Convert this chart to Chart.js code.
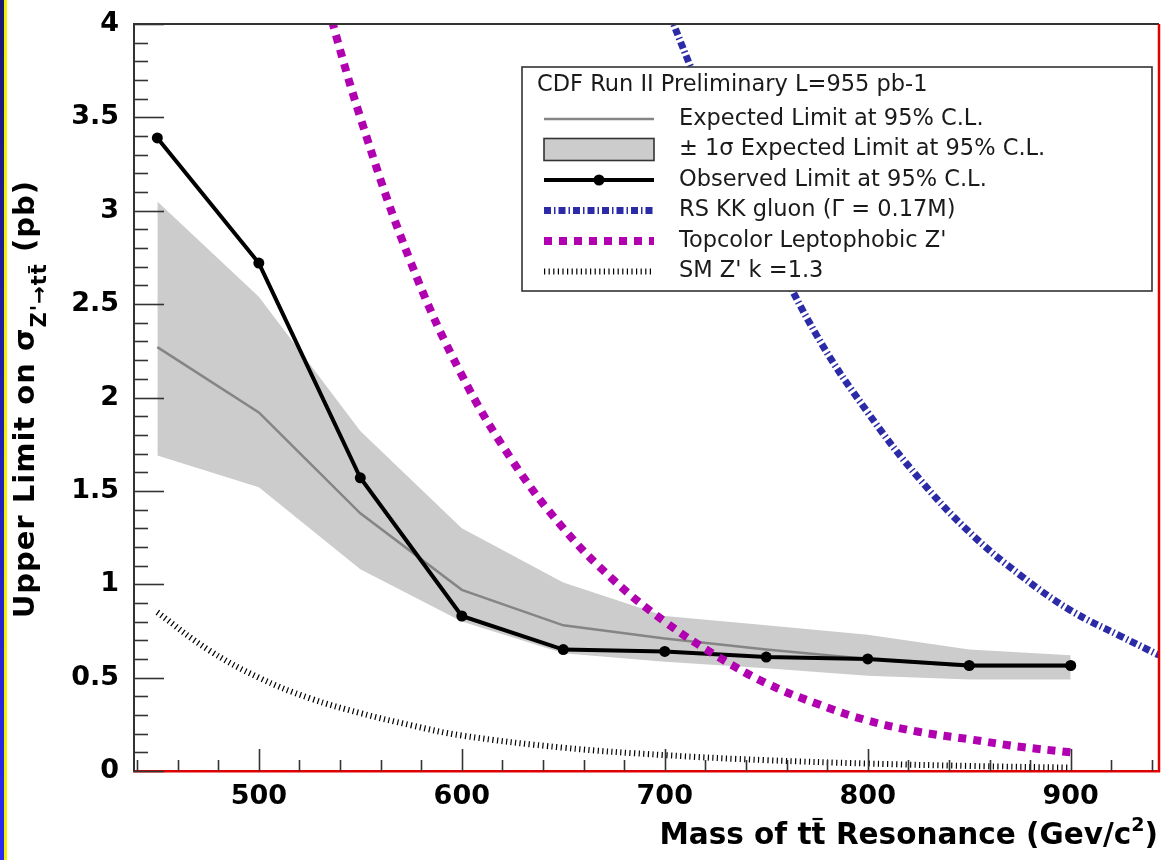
<!DOCTYPE html>
<html>
<head>
<meta charset="utf-8">
<script src="https://cdn.jsdelivr.net/npm/chart.js@4.4.0/dist/chart.umd.min.js"></script>
<style>
  html, body { margin: 0; padding: 0; background: #fff; overflow: hidden; }
</style>
</head>
<body>
<canvas id="myChart" width="1167" height="860"></canvas>
<script>
// Z' -> ttbar limits, masses in GeV/c^2, cross sections in pb
const masses = [450, 500, 550, 600, 650, 700, 750, 800, 850, 900];
const observedLimit = [3.39, 2.72, 1.57, 0.83, 0.65, 0.64, 0.61, 0.60, 0.565, 0.565];
const expectedLimit = [2.27, 1.92, 1.38, 0.97, 0.78, 0.71, 0.65, 0.60, 0.56, 0.56];
const expectedUp = [3.05, 2.54, 1.82, 1.30, 1.01, 0.83, 0.78, 0.73, 0.65, 0.62];
const expectedDown = [1.69, 1.52, 1.08, 0.80, 0.63, 0.585, 0.55, 0.51, 0.49, 0.49];

// theory curves
const kkMass = [700, 712, 725, 750, 775, 800, 825, 850, 875, 900, 925, 943.5];
const kkXsec = [4.12, 3.79, 3.45, 2.86, 2.33, 1.92, 1.57, 1.28, 1.05, 0.86, 0.72, 0.62];
const topcolorMass = [530, 550, 575, 600, 625, 650, 675, 700, 725, 750, 775, 800, 825, 850, 875, 900];
const topcolorXsec = [4.25, 3.50, 2.72, 2.12, 1.66, 1.30, 1.02, 0.80, 0.62, 0.47, 0.36, 0.27, 0.21, 0.17, 0.13, 0.10];
const smMass = [450, 475, 500, 525, 550, 575, 600, 650, 700, 750, 800, 850, 900];
const smXsec = [0.85, 0.65, 0.50, 0.39, 0.31, 0.245, 0.19, 0.125, 0.085, 0.058, 0.04, 0.027, 0.018];

const xTickValues = [500, 600, 700, 800, 900];
const xTickLabels = ["500", "600", "700", "800", "900"];
const yTickValues = [0, 0.5, 1, 1.5, 2, 2.5, 3, 3.5, 4];
const yTickLabels = ["0", "0.5", "1", "1.5", "2", "2.5", "3", "3.5", "4"];

const legendHeader = "CDF Run II Preliminary L=955 pb-1";

const FONT = '"DejaVu Sans", "Liberation Sans", sans-serif';
const pts = (xs, ys) => xs.map((x, i) => ({ x: x, y: ys[i] }));

// white page with the blue / yellow strip on the left
const background = {
  id: "background",
  beforeDraw(chart) {
    const c = chart.ctx;
    c.save();
    c.fillStyle = "#fff";
    c.fillRect(0, 0, chart.width, chart.height);
    const g = c.createLinearGradient(0, 0, 0, chart.height);
    g.addColorStop(0, "#1b1b70");
    g.addColorStop(1, "#2a2af2");
    c.fillStyle = g;
    c.fillRect(0, 0, 4, chart.height);
    c.fillStyle = "#f4f000";
    c.fillRect(4, 0, 3, chart.height);
    c.restore();
  }
};

// ROOT style frame: inward major/minor ticks, top line, red right edge
const frame = {
  id: "frame",
  afterDatasetsDraw(chart) {
    const c = chart.ctx;
    const a = chart.chartArea;
    const x = chart.scales.x, y = chart.scales.y;
    c.save();
    c.strokeStyle = "#333";
    c.lineWidth = 2;
    c.beginPath();
    c.moveTo(a.left, a.top);
    c.lineTo(a.right, a.top);
    c.stroke();
    c.lineWidth = 1.6;
    for (let i = 0; i <= 40; i++) {
      const py = Math.round(y.getPixelForValue(i / 10)) + 0.5;
      const len = i % 5 === 0 ? 30 : 14;
      c.beginPath();
      c.moveTo(a.left, py);
      c.lineTo(a.left + len, py);
      c.stroke();
    }
    for (let v = 440; v <= 940; v += 20) {
      const px = Math.round(x.getPixelForValue(v)) + 0.5;
      const len = v % 100 === 0 ? 22 : 11;
      c.beginPath();
      c.moveTo(px, a.bottom);
      c.lineTo(px, a.bottom - len);
      c.stroke();
    }
    c.strokeStyle = "#e00000";
    c.lineWidth = 2.5;
    c.beginPath();
    c.moveTo(a.right, a.top);
    c.lineTo(a.right, a.bottom + 1);
    c.stroke();
    c.restore();
  }
};

function drawRuns(c, runs, endX, baseY) {
  let total = 0;
  runs.forEach(r => { c.font = r.font; r.w = c.measureText(r.text).width; total += r.w; });
  let cx = endX - total;
  runs.forEach(r => {
    c.font = r.font;
    const by = baseY + (r.dy || 0);
    c.fillText(r.text, cx, by);
    if (r.bar) {
      c.save();
      c.lineWidth = r.barWidth || 2;
      c.strokeStyle = c.fillStyle;
      c.beginPath();
      c.moveTo(cx + 1, by - r.barHeight);
      c.lineTo(cx + r.w - 3, by - r.barHeight);
      c.stroke();
      c.restore();
    }
    cx += r.w;
  });
}

// axis titles with sub/superscripts and the t-bar
const axisTitles = {
  id: "axisTitles",
  afterDraw(chart) {
    const c = chart.ctx;
    c.save();
    c.fillStyle = "#000";
    c.textBaseline = "alphabetic";
    c.textAlign = "left";
    const big = "bold 29.5px " + FONT;
    const sup = "bold 19px " + FONT;
    drawRuns(c, [
      { text: "Mass of t", font: big },
      { text: "t", font: big, bar: true, barHeight: 25, barWidth: 2.2 },
      { text: " Resonance (Gev/c", font: big },
      { text: "2", font: sup, dy: -13 },
      { text: ")", font: big }
    ], 1158, 844);

    const yt = "bold 29px " + FONT;
    const sub = "bold 21px " + FONT;
    c.letterSpacing = "1px";
    c.translate(34, 180);
    c.rotate(-Math.PI / 2);
    drawRuns(c, [
      { text: "Upper Limit on ", font: yt },
      { text: "\u03c3", font: yt },
      { text: "Z'\u2192t", font: sub, dy: 12 },
      { text: "t", font: sub, dy: 12, bar: true, barHeight: 17, barWidth: 1.8 },
      { text: " (pb)", font: yt }
    ], 0, 0);
    c.restore();
  }
};

// legend box drawn inside the plot
const boxLegend = {
  id: "boxLegend",
  afterDraw(chart) {
    const c = chart.ctx;
    const bx = 522, by = 67, bw = 630, bh = 224;
    c.save();
    c.fillStyle = "#fff";
    c.fillRect(bx, by, bw, bh);
    c.strokeStyle = "#333";
    c.lineWidth = 1.6;
    c.strokeRect(bx, by, bw, bh);
    c.fillStyle = "#1a1a1a";
    c.font = "22.5px " + FONT;
    c.textBaseline = "middle";
    c.fillText(legendHeader, 537, 85);
    const rows = [119, 149.5, 180, 210.5, 241, 271.5];
    const order = [2, 0, 3, 6, 5, 4];
    const x1 = 544, x2 = 654;
    order.forEach((di, k) => {
      const ds = chart.data.datasets[di];
      const ry = rows[k];
      if (di === 0) {
        c.fillStyle = ds.backgroundColor;
        c.fillRect(x1, ry - 11, x2 - x1, 22);
        c.strokeStyle = "#333";
        c.lineWidth = 1.6;
        c.setLineDash([]);
        c.strokeRect(x1, ry - 11, x2 - x1, 22);
      } else {
        c.strokeStyle = ds.borderColor;
        c.lineWidth = ds.borderWidth;
        c.lineCap = "butt";
        c.setLineDash(ds.borderDash || []);
        c.beginPath();
        c.moveTo(x1, ry);
        c.lineTo(x2, ry);
        c.stroke();
        c.setLineDash([]);
        if (ds.pointRadius) {
          c.fillStyle = ds.pointBackgroundColor;
          c.beginPath();
          c.arc((x1 + x2) / 2, ry, ds.pointRadius, 0, Math.PI * 2);
          c.fill();
        }
      }
      c.fillStyle = "#1a1a1a";
      c.fillText(ds.label, 679, ry);
    });
    c.restore();
  }
};

const ctx = document.getElementById("myChart").getContext("2d");
const myChart = new Chart(ctx, {
  type: "line",
  data: {
    datasets: [
      {
        label: "\u00b1 1\u03c3 Expected Limit at 95% C.L.",
        data: pts(masses, expectedUp),
        borderWidth: 0,
        borderColor: "rgba(0,0,0,0)",
        backgroundColor: "#cccccc",
        pointRadius: 0,
        fill: "+1",
        tension: 0,
        order: 6
      },
      {
        label: "expected down",
        data: pts(masses, expectedDown),
        borderWidth: 0,
        borderColor: "rgba(0,0,0,0)",
        pointRadius: 0,
        fill: false,
        tension: 0,
        order: 6
      },
      {
        label: "Expected Limit at 95% C.L.",
        data: pts(masses, expectedLimit),
        borderColor: "#858585",
        borderWidth: 2.5,
        pointRadius: 0,
        fill: false,
        tension: 0,
        order: 5
      },
      {
        label: "Observed Limit at 95% C.L.",
        data: pts(masses, observedLimit),
        borderColor: "#000",
        borderWidth: 4,
        pointRadius: 5.5,
        pointBorderWidth: 0,
        pointBackgroundColor: "#000",
        fill: false,
        tension: 0,
        order: 4
      },
      {
        label: "SM Z' k =1.3",
        data: pts(smMass, smXsec),
        borderColor: "#000",
        borderWidth: 6,
        borderDash: [1.2, 3.4],
        borderCapStyle: "butt",
        pointRadius: 0,
        fill: false,
        tension: 0.4,
        order: 3
      },
      {
        label: "Topcolor Leptophobic Z'",
        data: pts(topcolorMass, topcolorXsec),
        borderColor: "#b000b0",
        borderWidth: 8,
        borderDash: [8, 7],
        borderCapStyle: "butt",
        pointRadius: 0,
        fill: false,
        tension: 0.4,
        order: 2
      },
      {
        label: "RS KK gluon (\u0393 = 0.17M)",
        data: pts(kkMass, kkXsec),
        borderColor: "#2b2ba8",
        borderWidth: 7,
        borderDash: [7, 3, 1.5, 3],
        borderCapStyle: "butt",
        pointRadius: 0,
        fill: false,
        tension: 0.4,
        order: 1
      }
    ]
  },
  options: {
    responsive: false,
    animation: false,
    layout: { padding: { left: 0, top: 24, right: 8, bottom: 0 } },
    plugins: {
      legend: { display: false },
      tooltip: { enabled: false }
    },
    scales: {
      x: {
        type: "linear",
        min: 438.5,
        max: 943.5,
        grid: { display: false },
        border: { color: "#e00000", width: 2.5 },
        ticks: {
          color: "#000",
          padding: 2,
          maxRotation: 0,
          font: { family: FONT, weight: "bold", size: 27 },
          callback: (v, i) => xTickLabels[i]
        },
        afterBuildTicks: s => { s.ticks = xTickValues.map(v => ({ value: v })); },
        afterFit: s => { s.height = 89; }
      },
      y: {
        type: "linear",
        min: 0,
        max: 4,
        grid: { display: false },
        border: { color: "#333", width: 2 },
        ticks: {
          color: "#000",
          padding: 7,
          font: { family: FONT, weight: "bold", size: 27 },
          callback: (v, i) => yTickLabels[i]
        },
        afterBuildTicks: s => { s.ticks = yTickValues.map(v => ({ value: v })); },
        afterFit: s => { s.width = 134; }
      }
    }
  },
  plugins: [background, frame, boxLegend, axisTitles]
});
</script>
</body>
</html>
